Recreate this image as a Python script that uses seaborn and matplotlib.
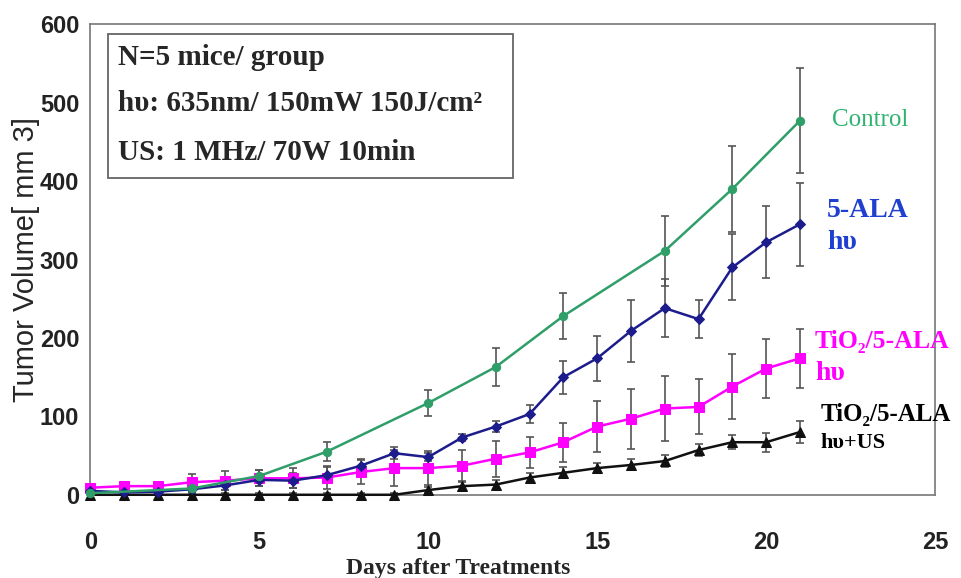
import numpy as np
import pandas as pd
import seaborn as sns
import matplotlib.pyplot as plt
from matplotlib.patches import Rectangle

# data (mean tumour volume, half error bar)
ctrl_days = [0, 3, 5, 7, 10, 12, 14, 17, 19, 21]
ctrl_vol = [2, 8, 24, 55, 117, 163, 228, 311, 390, 477]
ctrl_err = [2, 5, 8, 12, 16, 24, 29, 45, 55, 67]

days = list(range(22))
ala_vol = [5, 3, 4, 7, 12, 19, 18, 25, 37, 53, 48, 73, 87, 103, 150, 174, 209, 238, 224, 290, 322, 345]
ala_err = [2, 3, 3, 4, 6, 8, 10, 10, 8, 8, 5, 4, 7, 12, 21, 29, 40, 37, 24, 42, 46, 53]
tio2_vol = [9, 11, 11, 16, 18, 21, 21, 22, 29, 34, 34, 37, 46, 54, 67, 87, 97, 110, 112, 138, 161, 174]
tio2_err = [3, 5, 5, 10, 12, 10, 13, 15, 15, 23, 22, 20, 23, 20, 25, 32, 38, 42, 35, 41, 38, 38]
us_vol = [0, 0, 0, 0, 0, 0, 0, 0, 0, 0, 6, 11, 13, 22, 28, 34, 38, 43, 57, 67, 67, 80]
us_err = [2, 2, 2, 2, 2, 2, 2, 2, 2, 2, 4, 5, 6, 6, 7, 6, 7, 8, 8, 9, 12, 14]

groups = ['Control', '5-ALA', 'TiO2/5-ALA', 'TiO2/5-ALA+US']
colors = {'Control': '#2f9e68', '5-ALA': '#1c1c8c', 'TiO2/5-ALA': '#ff00ff', 'TiO2/5-ALA+US': '#111111'}
marks = {'Control': 'o', '5-ALA': 'D', 'TiO2/5-ALA': 's', 'TiO2/5-ALA+US': '^'}
msize = {'Control': 6, '5-ALA': 5, 'TiO2/5-ALA': 7, 'TiO2/5-ALA+US': 7}

box_lines = ['N=5 mice/ group', 'hυ: 635nm/ 150mW 150J/cm²', 'US: 1 MHz/ 70W 10min']

df = pd.concat([
    pd.DataFrame({'day': ctrl_days, 'vol': ctrl_vol, 'err': ctrl_err, 'group': 'Control'}),
    pd.DataFrame({'day': days, 'vol': ala_vol, 'err': ala_err, 'group': '5-ALA'}),
    pd.DataFrame({'day': days, 'vol': tio2_vol, 'err': tio2_err, 'group': 'TiO2/5-ALA'}),
    pd.DataFrame({'day': days, 'vol': us_vol, 'err': us_err, 'group': 'TiO2/5-ALA+US'}),
])

sns.set_style('white')
fig, ax = plt.subplots(figsize=(9.61, 5.78), dpi=100)
fig.subplots_adjust(left=0.094, right=0.973, top=0.958, bottom=0.144)

for g in groups:
    d = df[df.group == g]
    ax.errorbar(d.day, d.vol, yerr=d.err, fmt='none', ecolor='#555555',
                elinewidth=1.2, capsize=3, capthick=1.2, zorder=2)

for g in groups[::-1]:
    d = df[df.group == g]
    sns.lineplot(data=d, x='day', y='vol', color=colors[g], marker=marks[g],
                 markersize=msize[g], markeredgecolor=colors[g], linewidth=1.8,
                 ax=ax, zorder=3, clip_on=False)

ax.set_xlim(0, 25)
ax.set_ylim(0, 600)
ax.set_xticks([0, 5, 10, 15, 20, 25])
ax.set_yticks(range(0, 601, 100))
ax.tick_params(direction='in', length=7, width=1, color='#777777')
ax.tick_params(axis='x', pad=26)
ax.tick_params(axis='y', pad=8)
for lab in ax.get_xticklabels() + ax.get_yticklabels():
    lab.set_fontfamily('Liberation Sans')
    lab.set_fontweight('bold')
    lab.set_fontsize(17)
    lab.set_color('#222222')
for s in ax.spines.values():
    s.set_color('#777777')
    s.set_linewidth(1.2)

ax.set_ylabel('Tumor Volume[ mm 3]', fontsize=21, family='Liberation Sans', labelpad=0)
ax.set_xlabel('')
fig.text(0.477, 0.016, 'Days after Treatments', fontsize=17, family='Liberation Serif',
         fontweight='bold', ha='center', va='center')

serif = ['Liberation Serif', 'DejaVu Serif']
ax.add_patch(Rectangle((0.0213, 0.673), 0.4793, 0.306, transform=ax.transAxes,
                       fc='white', ec='#666666', lw=1.3, zorder=5))
for yy, t in zip([0.930, 0.832, 0.728], box_lines):
    ax.text(0.033, yy, t, transform=ax.transAxes, va='center', ha='left',
            fontsize=21, family=serif, fontweight='bold', zorder=6)

ax.text(21.95, 478, 'Control', color='#2fb36f', fontsize=18, family=serif, va='center')
ax.text(21.8, 363, '5-ALA', color='#1f3fd0', fontsize=20, family=serif,
        fontweight='bold', va='center')
ax.text(21.8, 322, 'hυ', color='#1f3fd0', fontsize=20, family=serif,
        fontweight='bold', va='center')
ax.text(21.45, 195, 'TiO₂/5-ALA', color='#ff00ff', fontsize=18.5, family=serif,
        fontweight='bold', va='center')
ax.text(21.45, 155, 'hυ', color='#ff00ff', fontsize=20, family=serif,
        fontweight='bold', va='center')
ax.text(21.6, 102, 'TiO₂/5-ALA', color='black', fontsize=18, family=serif,
        fontweight='bold', va='center')
ax.text(21.6, 66, 'hυ+US', color='black', fontsize=16, family=serif,
        fontweight='bold', va='center')

plt.savefig('out.png', dpi=100)
plt.close()
